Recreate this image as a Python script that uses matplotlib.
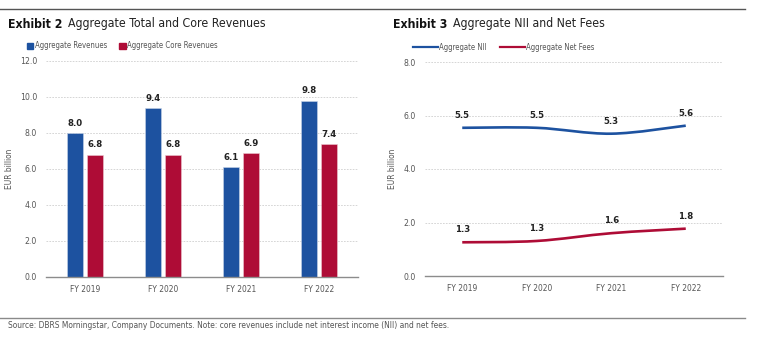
import matplotlib
matplotlib.use('Agg')
import matplotlib.pyplot as plt
import numpy as np
from matplotlib import font_manager
from matplotlib.path import Path
from matplotlib.patches import PathPatch, Patch
from matplotlib.lines import Line2D

# the reference uses a condensed face; take one if the system has it
cond = [f for f in font_manager.fontManager.ttflist
        if f.stretch in ('condensed', 'semi-condensed', 'extra-condensed')
        or 'Narrow' in f.name or 'Condensed' in f.name]
cond = [f for f in cond if f.style == 'normal']
if cond:
    plt.rcParams['font.family'] = [cond[0].name, 'DejaVu Sans']
    plt.rcParams['font.stretch'] = cond[0].stretch
else:
    plt.rcParams['font.family'] = ['Liberation Sans', 'DejaVu Sans']

# data
years = ['FY 2019', 'FY 2020', 'FY 2021', 'FY 2022']
total_rev = [8.0, 9.4, 6.1, 9.8]
core_rev = [6.8, 6.8, 6.9, 7.4]
nii = [5.54, 5.54, 5.32, 5.62]
net_fees = [1.26, 1.31, 1.60, 1.77]

BLUE = '#1d52a0'
RED = '#ae0c36'
GREY = '#555555'
W, H = 762, 348


def box(x0, y0, x1, y1):
    # pixel box (top-left origin) -> figure fraction rect
    return [x0 / W, 1 - y1 / H, (x1 - x0) / W, (y1 - y0) / H]


def style_axes(ax, ymax, step, ylab_x):
    ax.set_xlim(-0.5, 3.5)
    ax.set_ylim(0, ymax)
    ticks = np.arange(0, ymax + 0.001, step)
    ax.set_yticks(ticks)
    ax.set_yticklabels([f'{t:.1f}' for t in ticks])
    ax.set_xticks(range(len(years)))
    ax.set_xticklabels(years)
    ax.grid(axis='y', color='#cfcfcf', linestyle=(0, (2, 1.5)), linewidth=0.6)
    ax.set_axisbelow(True)
    for s in ['left', 'right', 'top']:
        ax.spines[s].set_visible(False)
    ax.spines['bottom'].set_color('#8c8c8c')
    ax.spines['bottom'].set_linewidth(1.0)
    ax.tick_params(axis='y', length=0, labelsize=6.2, colors=GREY, pad=6.5)
    ax.tick_params(axis='x', length=0, labelsize=6.0, colors=GREY, pad=6)
    ax.set_ylabel('EUR billion', fontsize=6.0, color=GREY)
    ax.yaxis.set_label_coords(ylab_x, 0.5)


def smooth_path(xs, ys):
    pts = np.column_stack([xs, ys]).astype(float)
    n = len(pts)
    verts = [pts[0]]
    codes = [Path.MOVETO]
    for i in range(n - 1):
        p0 = pts[max(i - 1, 0)]
        p1 = pts[i]
        p2 = pts[i + 1]
        p3 = pts[min(i + 2, n - 1)]
        verts += [p1 + (p2 - p0) / 6, p2 - (p3 - p1) / 6, p2]
        codes += [Path.CURVE4] * 3
    return Path(verts, codes)


fig = plt.figure(figsize=(7.62, 3.48), dpi=100)

# ---- Exhibit 2: bars
ax1 = fig.add_axes(box(46, 61, 358, 277))
x = np.arange(len(years))
bw = 0.205
off = 0.128
ax1.bar(x - off, total_rev, bw, color=BLUE, edgecolor='#c8d4e8', linewidth=0.4)
ax1.bar(x + off, core_rev, bw, color=RED, edgecolor='#ecc8d0', linewidth=0.4)
for xs, vals in [(x - off, total_rev), (x + off, core_rev)]:
    for xi, v in zip(xs, vals):
        ax1.annotate(f'{v:.1f}', (xi, v), xytext=(0, 7), textcoords='offset points',
                     ha='center', va='center', fontsize=6.8, fontweight='bold', color='#222222')
style_axes(ax1, 12, 2, (14 - 46) / 312)

ax1.legend(handles=[Patch(color=BLUE, label='Aggregate Revenues'),
                    Patch(color=RED, label='Aggregate Core Revenues')],
           loc='center left', bbox_to_anchor=(20 / W, 1 - 46 / H), bbox_transform=fig.transFigure,
           ncol=2, frameon=False, fontsize=5.6, handlelength=0.8, handleheight=0.8,
           handletextpad=0.2, columnspacing=1.6, labelcolor=GREY)

# ---- Exhibit 3: lines
ax2 = fig.add_axes(box(425, 62, 723, 276))
style_axes(ax2, 8, 2, (397 - 425) / 298)
for vals, col in [(nii, BLUE), (net_fees, RED)]:
    ax2.add_patch(PathPatch(smooth_path(x, vals), facecolor='none', edgecolor=col,
                            linewidth=1.9, capstyle='butt'))
    for xi, v in zip(x, vals):
        ax2.annotate(f'{v:.1f}', (xi, v), xytext=(0, 9), textcoords='offset points',
                     ha='center', va='center', fontsize=6.8, fontweight='bold', color='#222222')

ax2.legend(handles=[Line2D([], [], color=BLUE, lw=1.6, label='Aggregate NII'),
                    Line2D([], [], color=RED, lw=1.6, label='Aggregate Net Fees')],
           loc='center left', bbox_to_anchor=(406 / W, 1 - 47 / H), bbox_transform=fig.transFigure,
           ncol=2, frameon=False, fontsize=5.6, handlelength=3.2,
           handletextpad=0.1, columnspacing=1.8, labelcolor=GREY)

# ---- titles, rules, source
for x0, num, title in [(8, 'Exhibit 2', 'Aggregate Total and Core Revenues'),
                       (393, 'Exhibit 3', 'Aggregate NII and Net Fees')]:
    t = fig.text(x0 / W, 1 - 24 / H, num, fontsize=8.8, fontweight='bold', va='center', color='#111111')
    fig.texts.append(plt.Annotation(title, xy=(1, 0.5), xycoords=t, xytext=(4, 0),
                                    textcoords='offset points', fontsize=8.8, va='center',
                                    color='#222222'))
    fig.texts[-1].set_figure(fig)

fig.add_artist(Line2D([0, 745 / W], [1 - 9 / H] * 2, transform=fig.transFigure, color='#555555', lw=1))
fig.add_artist(Line2D([0, 745 / W], [1 - 318 / H] * 2, transform=fig.transFigure, color='#8a8a8a', lw=1))
fig.text(8 / W, 1 - 326 / H,
         'Source: DBRS Morningstar, Company Documents. Note: core revenues include net interest income (NII) and net fees.',
         fontsize=6.0, va='center', color=GREY)

fig.savefig('out.png', dpi=100)
